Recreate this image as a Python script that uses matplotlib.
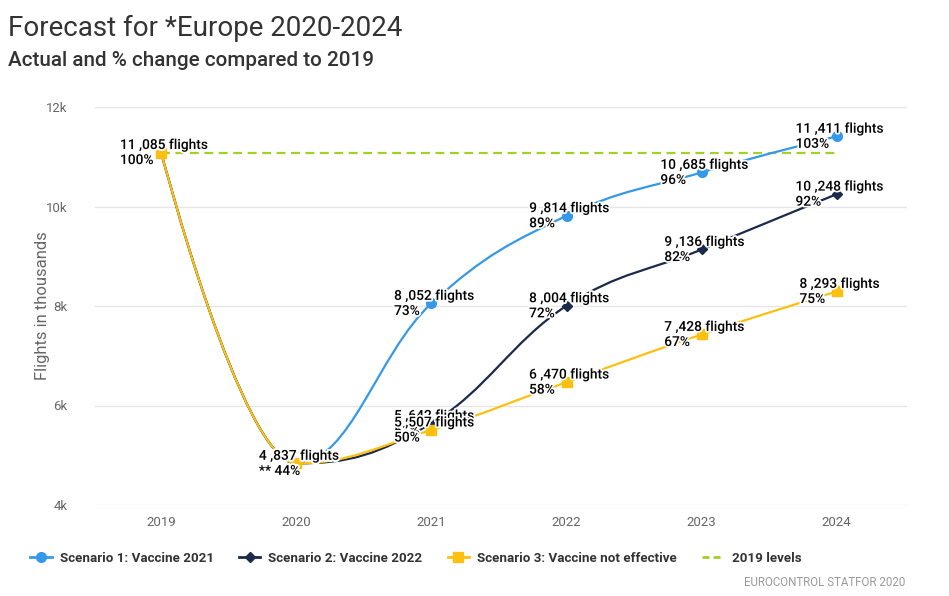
#!/usr/bin/env python3
"""Forecast for *Europe 2020-2024 - flights per scenario."""

import matplotlib
matplotlib.use("Agg")
import matplotlib.pyplot as plt
import matplotlib.patheffects as pe
from matplotlib.lines import Line2D
from matplotlib.path import Path
from matplotlib.patches import PathPatch
from matplotlib.ticker import FuncFormatter

plt.rcParams["font.family"] = ["Roboto", "DejaVu Sans"]

YEARS = ["2019", "2020", "2021", "2022", "2023", "2024"]
SCEN1 = [11085, 4837, 8052, 9814, 10685, 11411]
SCEN2 = [11085, 4837, 5642, 8004, 9136, 10248]
SCEN3 = [11085, 4837, 5507, 6470, 7428, 8293]
PCT1 = [100, 44, 73, 89, 96, 103]
PCT2 = [100, 44, 51, 72, 82, 92]
PCT3 = [100, 44, 50, 58, 67, 75]
LEVEL_2019 = 11085

SERIES = [
    ("Scenario 1: Vaccine 2021", SCEN1, PCT1, "#3598e8", "o", 7),
    ("Scenario 2: Vaccine 2022", SCEN2, PCT2, "#1b2a4a", "D", 5),
    ("Scenario 3: Vaccine not effective", SCEN3, PCT3, "#fdc010", "s", 6.5),
]
LEVEL_COLOR = "#a3cf28"


def spline_path(xs, ys, smoothing=1.5):
    """Cubic bezier path built like a Highcharts spline series."""
    denom = smoothing + 1
    n = len(xs)
    right = [None] * n
    verts = [(xs[0], ys[0])]
    codes = [Path.MOVETO]
    for i in range(1, n):
        x, y = xs[i], ys[i]
        lx, ly = xs[i - 1], ys[i - 1]
        left = None
        if i < n - 1:
            nx, ny = xs[i + 1], ys[i + 1]
            lcx = (smoothing * x + lx) / denom
            lcy = (smoothing * y + ly) / denom
            rcx = (smoothing * x + nx) / denom
            rcy = (smoothing * y + ny) / denom
            if rcx != lcx:
                corr = (rcy - lcy) * (rcx - x) / (rcx - lcx) + y - rcy
                lcy += corr
                rcy += corr
            if lcy > ly and lcy > y:
                lcy = max(ly, y)
                rcy = 2 * y - lcy
            elif lcy < ly and lcy < y:
                lcy = min(ly, y)
                rcy = 2 * y - lcy
            if rcy > ny and rcy > y:
                rcy = max(ny, y)
                lcy = 2 * y - rcy
            elif rcy < ny and rcy < y:
                rcy = min(ny, y)
                lcy = 2 * y - rcy
            left = (lcx, lcy)
            right[i] = (rcx, rcy)
        c1 = right[i - 1] if right[i - 1] is not None else (lx, ly)
        c2 = left if left is not None else (x, y)
        verts += [c1, c2, (x, y)]
        codes += [Path.CURVE4] * 3
    return Path(verts, codes)


def fmt_flights(v):
    return f"{v // 1000} ,{v % 1000:03d} flights"


fig = plt.figure(figsize=(9.49, 5.96), dpi=100)
ax = fig.add_axes([95 / 949, 91 / 596, 812 / 949, 398 / 596])

xs = list(range(len(YEARS)))
ax.plot(xs, [LEVEL_2019] * len(xs), color=LEVEL_COLOR, lw=1.6,
        dashes=(4, 2.5), zorder=2)

for name, vals, pcts, color, marker, ms in SERIES:
    ax.add_patch(PathPatch(spline_path(xs, vals), facecolor="none",
                           edgecolor=color, lw=1.6, zorder=3,
                           capstyle="round", joinstyle="round"))
    ax.plot(xs, vals, ls="none", marker=marker, ms=ms, color=color,
            mec=color, zorder=4)

halo = [pe.withStroke(linewidth=2.5, foreground="white")]
for name, vals, pcts, color, marker, ms in SERIES:
    for i, (v, p) in enumerate(zip(vals, pcts)):
        pct = f"** {p}%" if YEARS[i] == "2020" else f"{p}%"
        ax.annotate(f"{fmt_flights(v)}\n{pct}", (i, v), xytext=(2, 0),
                    textcoords="offset points", ha="center", va="center",
                    multialignment="left", fontsize=9.9, fontweight="medium",
                    color="#000000", linespacing=1.1, path_effects=halo,
                    zorder=6)

ax.set_xlim(-0.49, 5.52)
ax.set_ylim(4000, 12000)
ax.set_yticks([4000, 6000, 8000, 10000, 12000])
ax.yaxis.set_major_formatter(FuncFormatter(lambda v, _: f"{int(v // 1000)}k"))
ax.set_xticks(xs)
ax.set_xticklabels(YEARS)
ax.grid(axis="y", color="#e6e6e6", lw=1)
ax.set_axisbelow(True)
for s in ax.spines.values():
    s.set_visible(False)
ax.tick_params(axis="both", length=0, labelsize=9.5, labelcolor="#666666")
ax.tick_params(axis="y", pad=20)
ax.tick_params(axis="x", pad=8)
ax.set_ylabel("Flights in thousands", fontsize=12, color="#666666", labelpad=-3)

fig.text(8 / 949, 1 - 28 / 596, "Forecast for *Europe 2020-2024",
         fontsize=20, color="#333333", va="center")
fig.text(8 / 949, 1 - 60 / 596, "Actual and % change compared to 2019",
         fontsize=14.9, color="#333333", va="center", fontweight="medium")

handles = [Line2D([], [], color=c, marker=m, ms=ms, lw=2)
           for _, _, _, c, m, ms in SERIES]
handles.append(Line2D([], [], color=LEVEL_COLOR, lw=2, dashes=(2.5, 1.5)))
labels = [s[0] for s in SERIES] + ["2019 levels"]
fig.legend(handles, labels, loc="center", bbox_to_anchor=(0.438, 1 - 558 / 596),
           ncol=4, frameon=False, handlelength=1.6, columnspacing=1.9,
           handletextpad=0.6, prop={"size": 9.6, "weight": "bold"},
           labelcolor="#333333")

fig.text(905 / 949, 1 - 583 / 596, "EUROCONTROL STATFOR 2020", ha="right",
         va="center", fontsize=8.3, color="#999999")

fig.savefig("out.png", dpi=100)
